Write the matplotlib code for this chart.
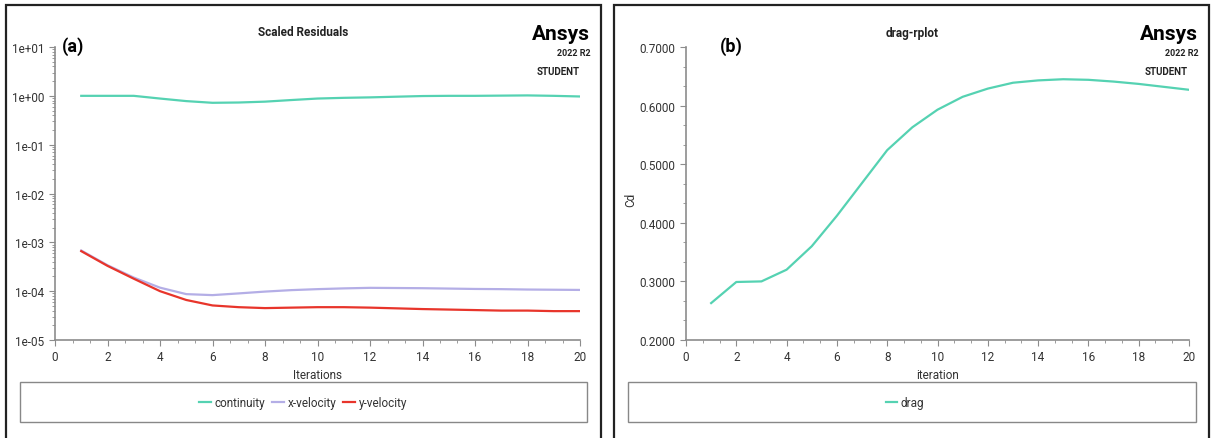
import numpy as np
import matplotlib.pyplot as plt
from matplotlib.patches import Rectangle
from matplotlib.ticker import AutoMinorLocator, LogLocator, NullFormatter, FixedLocator

plt.rcParams['font.family'] = ['Roboto', 'DejaVu Sans']

# residuals
iterations = np.arange(1, 21)
continuity = [1.0, 1.0, 1.0, 0.88, 0.78, 0.72, 0.73, 0.76, 0.82, 0.88,
              0.91, 0.93, 0.96, 0.99, 1.0, 1.0, 1.01, 1.02, 1.0, 0.97]
x_velocity = [6.8e-4, 3.4e-4, 1.9e-4, 1.18e-4, 8.7e-5, 8.3e-5, 9.0e-5, 9.8e-5, 1.05e-4, 1.1e-4,
              1.14e-4, 1.17e-4, 1.16e-4, 1.15e-4, 1.13e-4, 1.11e-4, 1.1e-4, 1.08e-4, 1.07e-4, 1.06e-4]
y_velocity = [6.6e-4, 3.3e-4, 1.8e-4, 1.0e-4, 6.6e-5, 5.1e-5, 4.7e-5, 4.5e-5, 4.6e-5, 4.7e-5,
              4.7e-5, 4.6e-5, 4.45e-5, 4.3e-5, 4.2e-5, 4.1e-5, 4.0e-5, 4.0e-5, 3.9e-5, 3.9e-5]

# drag coefficient
drag = [0.263, 0.299, 0.300, 0.320, 0.360, 0.412, 0.468, 0.524, 0.563, 0.593,
        0.615, 0.629, 0.639, 0.643, 0.645, 0.644, 0.641, 0.637, 0.632, 0.627]

teal = '#55d2b2'
lavender = '#b4aee6'
red = '#e8352b'
spine_col = '#8c8c8c'
txt_col = '#333333'

W, H = 1222, 439
fig = plt.figure(figsize=(W / 100, H / 100), dpi=100)


def fx(px):
    return px / W


def fy(py):
    return 1 - py / H


def style_axes(ax):
    for s in ['top', 'right']:
        ax.spines[s].set_visible(False)
    for s in ['left', 'bottom']:
        ax.spines[s].set_color(spine_col)
        ax.spines[s].set_linewidth(1.2)
    ax.tick_params(which='both', colors=spine_col, labelcolor=txt_col, labelsize=8.5, direction='out')
    ax.tick_params(which='major', length=4)
    ax.tick_params(which='minor', length=2.5)
    ax.set_xlim(0, 20)
    ax.set_xticks(np.arange(0, 21, 2))
    ax.xaxis.set_minor_locator(AutoMinorLocator(3))


# panel frames
for x0, x1 in [(6, 601), (614, 1209)]:
    fig.patches.append(Rectangle((fx(x0), -0.05), fx(x1) - fx(x0), fy(6) + 0.05,
                                 transform=fig.transFigure, fill=False, ec='#222222', lw=1.6))
# legend boxes
for x0, x1 in [(20, 587), (628, 1196)]:
    fig.patches.append(Rectangle((fx(x0), fy(423)), fx(x1) - fx(x0), fy(383) - fy(423),
                                 transform=fig.transFigure, fill=False, ec='#888888', lw=1.0))

# (a) residuals
axa = fig.add_axes([fx(55), fy(341), fx(580) - fx(55), fy(48) - fy(341)])
style_axes(axa)
axa.set_yscale('log')
axa.set_ylim(1e-5, 10)
axa.yaxis.set_major_locator(FixedLocator([1e-5, 1e-4, 1e-3, 1e-2, 1e-1, 1, 10]))
axa.set_yticklabels(['1e-05', '1e-04', '1e-03', '1e-02', '1e-01', '1e+00', '1e+01'])
axa.yaxis.set_minor_locator(LogLocator(subs=np.arange(2, 10), numticks=20))
axa.yaxis.set_minor_formatter(NullFormatter())
axa.plot(iterations, continuity, color=teal, lw=1.6, label='continuity')
axa.plot(iterations, x_velocity, color=lavender, lw=1.6, label='x-velocity')
axa.plot(iterations, y_velocity, color=red, lw=1.6, label='y-velocity')
axa.set_xlabel('Iterations', fontsize=8.5, color=txt_col, labelpad=3)
axa.legend(loc='center', bbox_to_anchor=(fx(303), fy(404)), bbox_transform=fig.transFigure,
           ncol=3, frameon=False, fontsize=8.5, handlelength=1.0, handletextpad=0.3,
           columnspacing=0.6, labelcolor=txt_col)

# (b) drag
axb = fig.add_axes([fx(686), fy(341), fx(1189) - fx(686), fy(48) - fy(341)])
style_axes(axb)
axb.set_ylim(0.2, 0.7)
axb.set_yticks(np.arange(0.2, 0.71, 0.1))
axb.set_yticklabels(['%.4f' % v for v in np.arange(0.2, 0.71, 0.1)])
axb.yaxis.set_minor_locator(AutoMinorLocator(3))
axb.plot(iterations, drag, color=teal, lw=1.6, label='drag')
axb.set_xlabel('iteration', fontsize=8.5, color=txt_col, labelpad=3)
axb.set_ylabel('Cd', fontsize=8.5, color=txt_col)
axb.yaxis.set_label_coords((637 - 686) / 503, (341 - 200) / 293)
axb.legend(loc='center', bbox_to_anchor=(fx(905), fy(404)), bbox_transform=fig.transFigure,
           frameon=False, fontsize=8.5, handlelength=1.0, handletextpad=0.3, labelcolor=txt_col)

# titles, panel letters, watermark
for cx, title, lx, letter, rx in [(303, 'Scaled Residuals', 62, '(a)', 590),
                                  (912, 'drag-rplot', 720, '(b)', 1198)]:
    fig.text(fx(cx), fy(33), title, ha='center', va='center', fontsize=8.5, weight='bold', color='#222222')
    fig.text(fx(lx), fy(47), letter, ha='left', va='center', fontsize=13, weight='bold', color='black')
    fig.text(fx(rx), fy(34), 'Ansys', ha='right', va='center', fontsize=15, weight='bold', color='black')
    fig.text(fx(rx + 1), fy(53), '2022 R2', ha='right', va='center', fontsize=6.5, weight='bold', color='#222222')
    fig.text(fx(rx - 10), fy(72), 'STUDENT', ha='right', va='center', fontsize=7, weight='bold', color='#222222')

fig.savefig('out.png', dpi=100)
